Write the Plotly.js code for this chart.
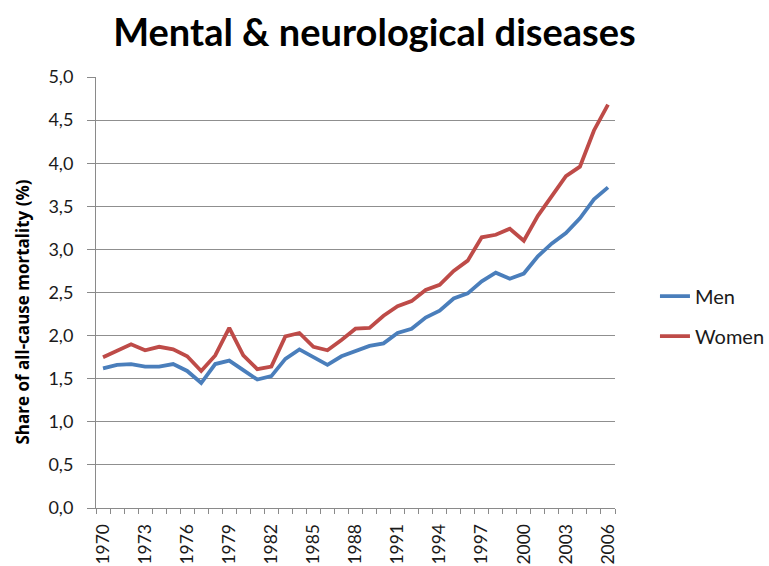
<!DOCTYPE html>
<html>
<head>
<meta charset="utf-8">
<script src="https://cdn.plot.ly/plotly-3.0.1.min.js"></script>
<style>html,body{margin:0;padding:0;background:#fff}#chart{width:769px;height:566px}</style>
</head>
<body>
<div id="chart"></div>
<script>
const years = [1970,1971,1972,1973,1974,1975,1976,1977,1978,1979,1980,1981,1982,1983,1984,1985,1986,1987,1988,1989,1990,1991,1992,1993,1994,1995,1996,1997,1998,1999,2000,2001,2002,2003,2004,2005,2006];
const men = [1.62,1.66,1.67,1.64,1.64,1.67,1.59,1.45,1.67,1.71,1.60,1.49,1.53,1.73,1.84,1.75,1.66,1.76,1.82,1.88,1.91,2.03,2.08,2.21,2.29,2.43,2.49,2.63,2.73,2.66,2.72,2.92,3.07,3.19,3.36,3.58,3.72];
const women = [1.75,1.83,1.90,1.83,1.87,1.84,1.76,1.59,1.77,2.09,1.77,1.61,1.64,1.99,2.03,1.87,1.83,1.95,2.08,2.09,2.23,2.34,2.40,2.53,2.59,2.75,2.87,3.14,3.17,3.24,3.10,3.39,3.62,3.85,3.96,4.38,4.68];
const xTickLabels = [1970,1973,1976,1979,1982,1985,1988,1991,1994,1997,2000,2003,2006];
const yTicks = [0,0.5,1,1.5,2,2.5,3,3.5,4,4.5,5];

const font = "Lato, 'Open Sans', sans-serif";
const traces = [
  {x: years, y: men, name: 'Men', type: 'scatter', mode: 'lines', legendgroup: 'a',
   line: {color: '#4a7ebb', width: 3.8}},
  {x: years, y: women, name: 'Women', type: 'scatter', mode: 'lines', legendgroup: 'b',
   line: {color: '#be4b48', width: 3.8}}
];
const layout = {
  width: 769, height: 566,
  margin: {l: 96, r: 154, t: 77, b: 58, autoexpand: false},
  paper_bgcolor: '#fff', plot_bgcolor: '#fff',
  separators: ', ',
  font: {family: font, color: '#1a1a1a'},
  title: {text: '<b>Mental & neurological diseases</b>', font: {family: font, size: 38, color: '#000'},
          x: 0.487, xanchor: 'center', y: 0.943, yanchor: 'middle', automargin: false},
  showlegend: true,
  legend: {x: 1.077, xanchor: 'left', y: 0.445, yanchor: 'middle', font: {size: 20, family: font, color: '#1a1a1a'},
           traceorder: 'grouped', tracegroupgap: 11, bgcolor: 'rgba(0,0,0,0)'},
  annotations: [{
    text: '<b>Share of all-cause mortality (%)</b>', textangle: -90,
    xref: 'paper', yref: 'paper', x: 0, y: 0.4536, xanchor: 'center', yanchor: 'middle',
    xshift: -74, showarrow: false,
    font: {size: 17, family: "'Open Sans', sans-serif", color: '#000'}
  }],
  xaxis: {
    range: [1969.5, 2006.5], tickmode: 'array', tickvals: xTickLabels, ticktext: xTickLabels.map(String),
    tickangle: -90, ticks: '', showgrid: false, zeroline: false, automargin: false,
    showline: true, linecolor: '#8a8a8a', linewidth: 1,
    ticklabelstandoff: 8,
    tickfont: {size: 17.5, family: font, color: '#1a1a1a'},
    minor: {tick0: 1969.5, dtick: 1, ticks: 'outside', ticklen: 5, tickcolor: '#8a8a8a', showgrid: false}
  },
  yaxis: {
    range: [0, 5], tickmode: 'array', tickvals: yTicks, tickformat: '.1f', automargin: false,
    ticks: 'outside', ticklen: 8, tickcolor: '#8a8a8a',
    showgrid: true, gridcolor: '#8f8f8f', gridwidth: 1, zeroline: false,
    showline: true, linecolor: '#8a8a8a', linewidth: 1,
    ticklabelstandoff: 10,
    tickfont: {size: 18, family: font, color: '#1a1a1a'}
  }
};
Plotly.newPlot('chart', traces, layout, {displayModeBar: false, staticPlot: true});
</script>
</body>
</html>
